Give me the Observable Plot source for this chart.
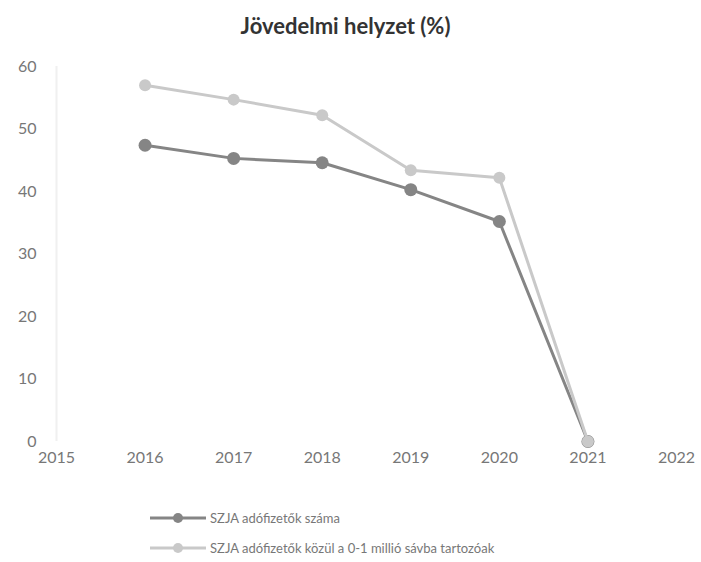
<!DOCTYPE html>
<html><head><meta charset="utf-8">
<script src="https://cdn.jsdelivr.net/npm/d3@7"></script>
<script src="https://cdn.jsdelivr.net/npm/@observablehq/plot@0.6"></script>
<style>
body{margin:0;background:#fff;font-family:Lato,"Open Sans",sans-serif;}
#title{height:50px;line-height:52px;text-align:center;font-weight:bold;font-size:22px;color:#333;padding-right:10px;}
#legend{margin-top:27px;font-size:13px;color:#777;}
.item{display:flex;align-items:center;margin-left:150px;height:30px;}
.item svg{margin-right:4px;}
</style></head>
<body>
<div id="title">Jövedelmi helyzet (%)</div>
<div id="chart"></div>
<div id="legend"></div>
<script>
const years = [2016, 2017, 2018, 2019, 2020, 2021];
const szjaTotal = [47.4, 45.3, 44.6, 40.3, 35.2, 0];
const szjaLow = [57.0, 54.7, 52.2, 43.4, 42.2, 0];
const seriesNames = ["SZJA adófizetők száma", "SZJA adófizetők közül a 0-1 millió sávba tartozóak"];
const seriesColors = ["#858585", "#c9c9c9"];
const xTicks = [2015, 2016, 2017, 2018, 2019, 2020, 2021, 2022];
const yTicks = [0, 10, 20, 30, 40, 50, 60];

const data = [];
years.forEach((y, i) => {
  data.push({year: y, value: szjaTotal[i], series: seriesNames[0]});
  data.push({year: y, value: szjaLow[i], series: seriesNames[1]});
});
const low = data.filter(d => d.series === seriesNames[1]);
const tot = data.filter(d => d.series === seriesNames[0]);

const chart = Plot.plot({
  width: 701, height: 426,
  marginLeft: 56, marginRight: 25, marginTop: 16, marginBottom: 35,
  style: {fontFamily: "Lato, 'Open Sans', sans-serif", fontSize: "16px", color: "#777"},
  x: {domain: [2015, 2022], ticks: xTicks, tickFormat: d => String(d), tickSize: 0, tickPadding: 10, label: null},
  y: {domain: [0, 60], ticks: yTicks, tickSize: 0, tickPadding: 20, label: null},
  marks: [
    Plot.ruleX([2015], {stroke: "#f0f0f0", strokeWidth: 2}),
    Plot.line(tot, {x: "year", y: "value", stroke: seriesColors[0], strokeWidth: 3}),
    Plot.dot(tot, {x: "year", y: "value", fill: seriesColors[0], r: 6.5}),
    Plot.line(low, {x: "year", y: "value", stroke: seriesColors[1], strokeWidth: 3}),
    Plot.dot(low, {x: "year", y: "value", fill: seriesColors[1], r: 6})
  ]
});
document.getElementById("chart").appendChild(chart);

const leg = document.getElementById("legend");
seriesNames.forEach((n, i) => {
  const div = document.createElement("div");
  div.className = "item";
  div.innerHTML = `<svg width="56" height="12"><line x1="0" y1="6" x2="56" y2="6" stroke="${seriesColors[i]}" stroke-width="3"/><circle cx="28" cy="6" r="5" fill="${seriesColors[i]}"/></svg><span>${n}</span>`;
  leg.appendChild(div);
});
</script>
</body></html>
